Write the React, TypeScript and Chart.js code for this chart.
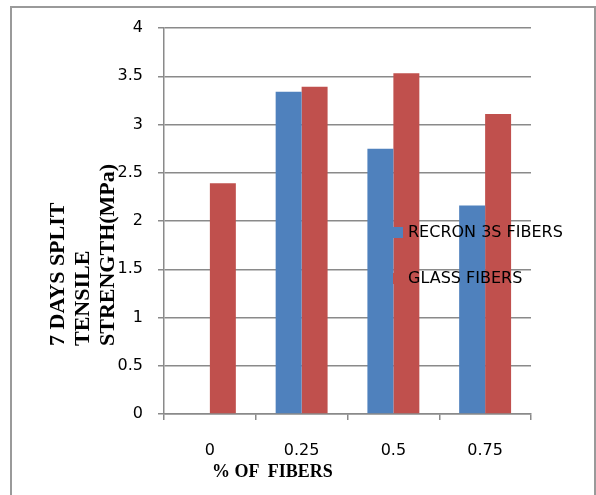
import React, { useEffect, useRef } from "react";
import { Chart, registerables } from "chart.js";

Chart.register(...registerables);

const categories = ["0", "0.25", "0.5", "0.75"];
const recronValues = [0, 3.34, 2.75, 2.16];
const glassValues = [2.39, 3.39, 3.53, 3.11];
const seriesNames = ["RECRON 3S FIBERS", "GLASS FIBERS"];
const seriesColors = ["#4F81BD", "#C0504D"];
const yTitleLines = ["7 DAYS SPLIT", "TENSILE", "STRENGTH(MPa)"];
const xTitle = "% OF  FIBERS";

const GRID = "#8a8a8a";
const TICK_FONT = { family: "'DejaVu Sans', sans-serif", size: 16 };

export default function App() {
  const ref = useRef<HTMLCanvasElement | null>(null);

  useEffect(() => {
    if (!ref.current) return;
    const chart = new Chart(ref.current, {
      type: "bar",
      data: {
        labels: categories,
        datasets: [
          {
            label: seriesNames[0],
            data: recronValues,
            backgroundColor: seriesColors[0],
            borderWidth: 0,
            categoryPercentage: 0.566,
            barPercentage: 1,
          },
          {
            label: seriesNames[1],
            data: glassValues,
            backgroundColor: seriesColors[1],
            borderWidth: 0,
            categoryPercentage: 0.566,
            barPercentage: 1,
          },
        ],
      },
      options: {
        animation: false,
        responsive: false,
        maintainAspectRatio: false,
        layout: { padding: { top: 28, right: 65, left: 0, bottom: 0 } },
        plugins: {
          legend: { display: false },
          tooltip: { enabled: false },
          title: { display: false },
        },
        scales: {
          x: {
            grid: {
              offset: true,
              drawOnChartArea: false,
              drawTicks: true,
              tickLength: 6,
              color: GRID,
              lineWidth: 1.5,
            },
            border: { display: true, color: GRID, width: 1.5 },
            ticks: { color: "#000", font: TICK_FONT, padding: 21, maxRotation: 0 },
            afterFit: (scale: any) => {
              scale.height = 81;
            },
          },
          y: {
            min: 0,
            max: 4,
            ticks: {
              stepSize: 0.5,
              color: "#000",
              font: TICK_FONT,
              padding: 15,
              callback: (v: any) => `${Number(v)}`,
            },
            grid: {
              color: GRID,
              lineWidth: 1.5,
              drawTicks: true,
              tickLength: 6,
            },
            border: { display: true, color: GRID, width: 1.5 },
            afterFit: (scale: any) => {
              scale.width = 164;
            },
          },
        },
      },
    });
    return () => chart.destroy();
  }, []);

  const lineH = 25;

  return (
    <div
      style={{
        position: "fixed",
        left: 0,
        top: 0,
        width: 596,
        height: 495,
        background: "#fff",
        overflow: "hidden",
      }}
    >
      <div
        style={{
          position: "absolute",
          left: 10,
          top: 6,
          width: 586,
          height: 520,
          borderLeft: "2px solid #9a9a9a",
          borderTop: "2px solid #9a9a9a",
          borderRight: "2px solid #9a9a9a",
          boxSizing: "border-box",
        }}
      />
      <canvas
        ref={ref}
        width={596}
        height={495}
        style={{ position: "absolute", left: 0, top: 0, display: "block" }}
      />
      <div
        style={{
          position: "absolute",
          left: 43.5,
          top: 346,
          transformOrigin: "left top",
          transform: "rotate(-90deg)",
          fontFamily: "'Liberation Serif', 'Times New Roman', serif",
          fontWeight: "bold",
          fontSize: 22,
          lineHeight: `${lineH}px`,
          whiteSpace: "nowrap",
          color: "#000",
        }}
      >
        {yTitleLines.map((l, i) => (
          <div key={i}>{l}</div>
        ))}
      </div>
      <div
        style={{
          position: "absolute",
          left: 212,
          top: 461,
          fontFamily: "'Liberation Serif', 'Times New Roman', serif",
          fontWeight: "bold",
          fontSize: 18,
          lineHeight: "20px",
          whiteSpace: "pre",
          color: "#000",
        }}
      >
        {xTitle}
      </div>
      {seriesNames.map((name, i) => (
        <div
          key={name}
          style={{
            position: "absolute",
            left: 393,
            top: 222 + i * 46,
            height: 20,
            display: "flex",
            alignItems: "center",
            whiteSpace: "nowrap",
          }}
        >
          <span
            style={{
              display: "inline-block",
              width: 10,
              height: 11,
              background: seriesColors[i],
              marginRight: 5,
            }}
          />
          <span
            style={{
              fontFamily: "'DejaVu Sans', sans-serif",
              fontSize: 16,
              color: "#000",
              lineHeight: "20px",
            }}
          >
            {name}
          </span>
        </div>
      ))}
    </div>
  );
}
